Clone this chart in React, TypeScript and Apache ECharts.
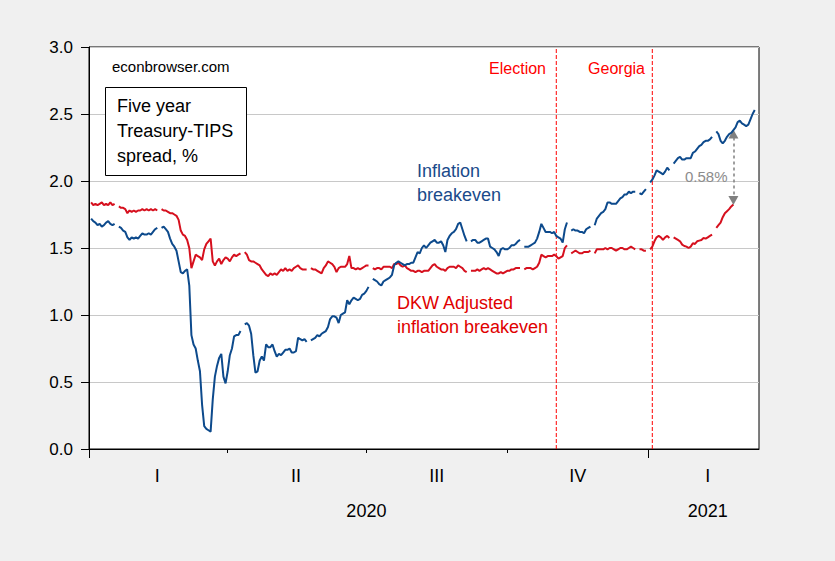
import React, { useEffect, useRef } from "react";
import * as echarts from "echarts";

// ---------- data ----------
const axisStart = "2020-01-01"; // first observation on the (5-day) axis
const axisEnd = "2021-03-16"; // last observation on the axis
const firstDay = "2020-01-02"; // first value of the series below

// Five-year Treasury-TIPS spread (inflation breakeven), one value per business day (null = holiday)
const inflationBreakeven: (number | null)[] = [
  1.72, 1.70,
  1.69, 1.67, 1.68, 1.66, 1.67,
  1.69, 1.70, 1.68, 1.67, 1.68,
  null, 1.66, 1.65, 1.63, 1.62,
  1.58, 1.56, 1.58, 1.57, 1.58,
  1.57, 1.59, 1.61, 1.60, 1.60,
  1.61, 1.60, 1.62, 1.64, 1.65,
  null, 1.65, 1.66, 1.64, 1.62,
  1.57, 1.53, 1.51, 1.48, 1.40,
  1.32, 1.31, 1.33, 1.34, 1.22,
  0.85, 0.78, 0.75, 0.66, 0.58,
  0.33, 0.17, 0.15, 0.14, 0.13,
  0.37, 0.54, 0.62, 0.68, 0.71,
  0.54, 0.49, 0.58, 0.70, 0.75,
  0.84, 0.85, 0.85, 0.88, null,
  0.93, 0.94, 0.92, 0.86, 0.70,
  0.57, 0.58, 0.66, 0.69, 0.66,
  0.78, 0.76, 0.76, 0.78, 0.73,
  0.69, 0.71, 0.70, 0.72, 0.74,
  0.74, 0.75, 0.72, 0.72, 0.73,
  0.83, 0.82, 0.81, 0.82, 0.80,
  null, 0.81, 0.82, 0.83, 0.85,
  0.84, 0.86, 0.87, 0.88, 0.91,
  0.97, 0.99, 0.99, 0.98, 0.94,
  1.00, 1.01, 1.02, 1.11, 1.08,
  1.11, 1.13, 1.12, 1.11, 1.12,
  1.15, 1.16, 1.18, 1.21, null,
  1.27, 1.26, 1.25, 1.23, 1.22,
  1.25, 1.26, 1.27, 1.28, 1.30,
  1.37, 1.39, 1.40, 1.39, 1.38,
  1.37, 1.38, 1.38, 1.39, 1.39,
  1.43, 1.47, 1.46, 1.50, 1.52,
  1.50, 1.52, 1.54, 1.55, 1.56,
  1.54, 1.54, 1.55, 1.52, 1.47,
  1.56, 1.59, 1.61, 1.62, 1.64,
  1.68, 1.69, 1.64, 1.59, 1.55,
  null, 1.55, 1.56, 1.56, 1.54,
  1.54, 1.55, 1.56, 1.57, 1.57,
  1.51, 1.50, 1.49, 1.47, 1.44,
  1.49, 1.50, 1.49, 1.49, 1.50,
  1.52, 1.52, 1.53, 1.55, 1.56,
  null, 1.51, 1.51, 1.51, 1.52,
  1.53, 1.54, 1.57, 1.62, 1.68,
  1.65, 1.62, 1.62, 1.62, 1.61,
  1.62, 1.59, 1.58, 1.57, 1.54,
  1.64, 1.69, null, 1.63, 1.64,
  1.63, 1.63, 1.62, 1.62, 1.61,
  1.64, 1.65, 1.66, null, 1.67,
  1.72, 1.74, 1.76, 1.77, 1.79,
  1.84, 1.84, 1.83, 1.83, 1.83,
  1.85, 1.87, 1.88, 1.90, 1.90,
  1.92, 1.91, 1.92, 1.92, null,
  1.91, 1.90, 1.92, 1.94, null,
  1.99, 2.01, 2.04, 2.08, 2.07,
  2.06, 2.05, 2.07, 2.10, 2.08,
  null, 2.13, 2.15, 2.17, 2.18,
  2.16, 2.16, 2.17, 2.17, 2.17,
  2.21, 2.22, 2.24, 2.26, 2.27,
  2.29, 2.30, 2.30, 2.31, 2.33,
  null, 2.37, 2.35, 2.30, 2.28,
  2.30, 2.33, 2.35, 2.36, 2.38,
  2.40, 2.44, 2.45, 2.43, 2.42,
  2.41, 2.42, 2.46, 2.50, 2.53,
];

// DKW adjusted inflation breakeven
const dkwAdjusted: (number | null)[] = [
  1.84, 1.82,
  1.83, 1.82, 1.83, 1.84, 1.82,
  1.83, 1.82, 1.84, 1.82, 1.83,
  null, 1.81, 1.80, 1.80, 1.79,
  1.76, 1.78, 1.77, 1.78, 1.77,
  1.78, 1.78, 1.79, 1.78, 1.79,
  1.78, 1.79, 1.78, 1.79, 1.78,
  null, 1.79, 1.78, 1.78, 1.77,
  1.76, 1.76, 1.75, 1.74, 1.71,
  1.63, 1.60, 1.59, 1.56, 1.50,
  1.35, 1.40, 1.45, 1.44, 1.43,
  1.41, 1.49, 1.53, 1.55, 1.57,
  1.40, 1.37, 1.40, 1.42, 1.38,
  1.41, 1.43, 1.42, 1.40, 1.43,
  1.45, 1.44, 1.45, 1.46, null,
  1.47, 1.45, 1.41, 1.40, 1.40,
  1.39, 1.38, 1.37, 1.34, 1.32,
  1.30, 1.29, 1.31, 1.30, 1.31,
  1.30, 1.32, 1.34, 1.33, 1.35,
  1.33, 1.34, 1.33, 1.35, 1.36,
  1.37, 1.35, 1.34, 1.34, 1.34,
  null, 1.35, 1.34, 1.34, 1.33,
  1.32, 1.31, 1.35, 1.37, 1.40,
  1.39, 1.38, 1.36, 1.32, 1.35,
  1.36, 1.36, 1.36, 1.38, 1.44,
  1.35, 1.35, 1.34, 1.35, 1.34,
  1.35, 1.36, 1.37, 1.37, null,
  1.35, 1.34, 1.35, 1.35, 1.34,
  1.36, 1.36, 1.36, 1.36, 1.35,
  1.38, 1.38, 1.39, 1.37, 1.36,
  1.37, 1.35, 1.34, 1.33, 1.33,
  1.32, 1.33, 1.33, 1.32, 1.33,
  1.33, 1.33, 1.35, 1.37, 1.38,
  1.36, 1.35, 1.34, 1.34, 1.33,
  1.35, 1.36, 1.36, 1.36, 1.35,
  1.37, 1.36, 1.35, 1.33, 1.32,
  null, 1.33, 1.33, 1.33, 1.34,
  1.33, 1.34, 1.35, 1.34, 1.35,
  1.34, 1.33, 1.32, 1.31, 1.31,
  1.32, 1.31, 1.32, 1.33, 1.33,
  1.34, 1.34, 1.35, 1.35, 1.35,
  null, 1.34, 1.35, 1.35, 1.35,
  1.34, 1.35, 1.36, 1.39, 1.45,
  1.44, 1.43, 1.44, 1.44, 1.44,
  1.45, 1.44, 1.42, 1.43, 1.44,
  1.50, 1.52, null, 1.46, 1.47,
  1.48, 1.47, 1.46, 1.46, 1.47,
  1.47, 1.47, 1.48, null, 1.46,
  1.49, 1.49, 1.49, 1.49, 1.50,
  1.49, 1.50, 1.50, 1.49, 1.48,
  1.49, 1.50, 1.50, 1.49, 1.49,
  1.50, 1.51, 1.50, 1.49, null,
  1.49, 1.49, 1.48, 1.48, null,
  1.49, 1.51, 1.55, 1.58, 1.59,
  1.58, 1.56, 1.58, 1.59, 1.575,
  null, 1.58, 1.57, 1.56, 1.55,
  1.525, 1.515, 1.51, 1.50, 1.51,
  1.535, 1.53, 1.55, 1.555, 1.56,
  1.575, 1.57, 1.58, 1.59, 1.60,
  null, 1.65, 1.67, 1.69, 1.73,
  1.76, 1.775, 1.79, 1.81, 1.825,
];

const quarterTickDates = ["2020-01-01", "2020-04-01", "2020-07-01", "2020-10-01", "2021-01-01"];
const quarterLabelDates = ["2020-02-14", "2020-05-15", "2020-08-17", "2020-11-17", "2021-02-10"];
const quarterLabels = ["I", "II", "III", "IV", "I"];
const yearTickDates = ["2020-01-01", "2021-01-01"];
const yearLabelDates = ["2020-07-01", "2021-02-10"];
const yearLabels = ["2020", "2021"];

const eventDates = ["2020-11-03", "2021-01-05"];
const eventLabels = ["Election", "Georgia"];

const spreadDate = "2021-02-26";
const spreadTop = 2.35;
const spreadBottom = 1.855;
const spreadLabel = "0.58%";

// ---------- helpers ----------
const DAY = 86400000;
function toTs(s: string): number {
  const [y, m, d] = s.split("-").map(Number);
  return Date.UTC(y, m - 1, d);
}
const fmt = (t: number) => new Date(t).toISOString().slice(0, 10);
function businessDays(start: string, end: string): string[] {
  const out: string[] = [];
  const e = toTs(end);
  for (let t = toTs(start); t <= e; t += DAY) {
    const wd = new Date(t).getUTCDay();
    if (wd !== 0 && wd !== 6) out.push(fmt(t));
  }
  return out;
}
const categories = businessDays(axisStart, axisEnd);
const offset = categories.indexOf(firstDay);
const align = (vals: (number | null)[]) =>
  categories.map((_, i) => {
    const v = vals[i - offset];
    return v == null ? "-" : v;
  });

function labelMap(dates: string[], labels: string[]) {
  const m: Record<string, string> = {};
  dates.forEach((d, i) => (m[d] = labels[i]));
  return m;
}
const quarterMap = labelMap(quarterLabelDates, quarterLabels);
const yearMap = labelMap(yearLabelDates, yearLabels);

const FONT = '"Liberation Sans", Arial, sans-serif';
const BLUE = "#0d4a8c";
const RED = "#d6101e";
const EVENT_RED = "#ff0000";

export default function App() {
  const ref = useRef<HTMLDivElement>(null);
  useEffect(() => {
    if (!ref.current) return;
    const chart = echarts.init(ref.current, undefined, { renderer: "svg" });
    const gridPos = { left: 89, right: 76, top: 47, bottom: 112 };
    const txt = (text: string, x: number, y: number, size: number, color: string, al = "left") => ({
      type: "text",
      x,
      y,
      z: 100,
      style: {
        text,
        fill: color,
        fontSize: size,
        fontFamily: FONT,
        align: al,
        textAlign: al,
        verticalAlign: "middle",
        textVerticalAlign: "middle",
      },
    });
    const xBase = {
      type: "category",
      data: categories,
      boundaryGap: false,
      splitLine: { show: false },
    };
    const eventSeries = eventDates.map((d) => ({
      type: "line",
      xAxisIndex: 0,
      yAxisIndex: 0,
      data: [
        [d, 0],
        [d, 3],
      ],
      showSymbol: false,
      silent: true,
      z: 3,
      lineStyle: { color: EVENT_RED, width: 1, type: [4, 2] },
      itemStyle: { color: EVENT_RED },
    }));
    const option: any = {
      animation: false,
      backgroundColor: "#f0f0f0",
      grid: [
        { ...gridPos, show: true, backgroundColor: "#ffffff", borderColor: "#000", borderWidth: 1 },
        { ...gridPos, show: false },
      ],
      xAxis: [
        {
          ...xBase,
          gridIndex: 0,
          axisLine: { show: true, lineStyle: { color: "#000", width: 1 } },
          axisTick: {
            show: true,
            inside: false,
            length: 4,
            interval: (_i: number, v: string) => quarterTickDates.includes(v),
            lineStyle: { color: "#000" },
          },
          axisLabel: {
            show: true,
            interval: (_i: number, v: string) => v in quarterMap,
            formatter: (v: string) => quarterMap[v] ?? "",
            color: "#000",
            fontSize: 18,
            fontFamily: FONT,
            margin: 18,
          },
        },
        {
          ...xBase,
          gridIndex: 1,
          axisLine: { show: false },
          axisTick: {
            show: true,
            inside: false,
            length: 9,
            interval: (_i: number, v: string) => yearTickDates.includes(v),
            lineStyle: { color: "#000" },
          },
          axisLabel: {
            show: true,
            interval: (_i: number, v: string) => v in yearMap,
            formatter: (v: string) => yearMap[v] ?? "",
            color: "#000",
            fontSize: 18,
            fontFamily: FONT,
            margin: 53,
          },
        },
      ],
      yAxis: [
        {
          type: "value",
          gridIndex: 0,
          min: 0,
          max: 3,
          interval: 0.5,
          axisLine: { show: true, lineStyle: { color: "#000", width: 1 } },
          axisTick: { show: true, inside: false, length: 8, lineStyle: { color: "#000" } },
          axisLabel: {
            formatter: (v: number) => v.toFixed(1),
            color: "#000",
            fontSize: 17,
            fontFamily: FONT,
            margin: 16,
          },
          splitLine: { show: true, lineStyle: { color: "#c8c8c8", width: 1 } },
        },
        { type: "value", gridIndex: 1, min: 0, max: 3, show: false },
      ],
      series: [
        {
          name: "DKW Adjusted inflation breakeven",
          type: "line",
          xAxisIndex: 0,
          yAxisIndex: 0,
          data: align(dkwAdjusted),
          showSymbol: false,
          connectNulls: false,
          z: 4,
          lineStyle: { color: RED, width: 2 },
          itemStyle: { color: RED },
        },
        {
          name: "Inflation breakeven",
          type: "line",
          xAxisIndex: 0,
          yAxisIndex: 0,
          data: align(inflationBreakeven),
          showSymbol: false,
          connectNulls: false,
          z: 5,
          lineStyle: { color: BLUE, width: 2 },
          itemStyle: { color: BLUE },
          markLine: {
            silent: true,
            symbol: ["triangle", "triangle"],
            symbolSize: [10, 9],
            label: { show: false },
            lineStyle: { color: "#808080", width: 1.5, type: [3, 3] },
            itemStyle: { color: "#808080" },
            data: [
              [
                { coord: [spreadDate, spreadBottom] },
                { coord: [spreadDate, spreadTop] },
              ],
            ],
          },
        },
        ...eventSeries,
      ],
      graphic: [
        txt("econbrowser.com", 112, 66, 15, "#000"),
        {
          type: "rect",
          z: 99,
          shape: { x: 105.5, y: 87.5, width: 141, height: 88 },
          style: { fill: "#fff", stroke: "#000", lineWidth: 1 },
        },
        txt("Five year", 117, 106, 18, "#000"),
        txt("Treasury-TIPS", 117, 131, 18, "#000"),
        txt("spread, %", 117, 156, 18, "#000"),
        txt("Inflation", 417, 171, 18, "#1a4a8a"),
        txt("breakeven", 417, 195, 18, "#1a4a8a"),
        txt("DKW Adjusted", 397, 303, 18, "#e00000"),
        txt("inflation breakeven", 397, 327, 18, "#e00000"),
        txt(eventLabels[0], 546, 68, 16, EVENT_RED, "right"),
        txt(eventLabels[1], 645, 68, 16, EVENT_RED, "right"),
        txt(spreadLabel, 685, 176, 15, "#8c8c8c"),
      ],
    };
    chart.setOption(option);
    return () => chart.dispose();
  }, []);
  return (
    <div
      ref={ref}
      style={{ position: "fixed", left: 0, top: 0, width: 835, height: 561 }}
    />
  );
}
